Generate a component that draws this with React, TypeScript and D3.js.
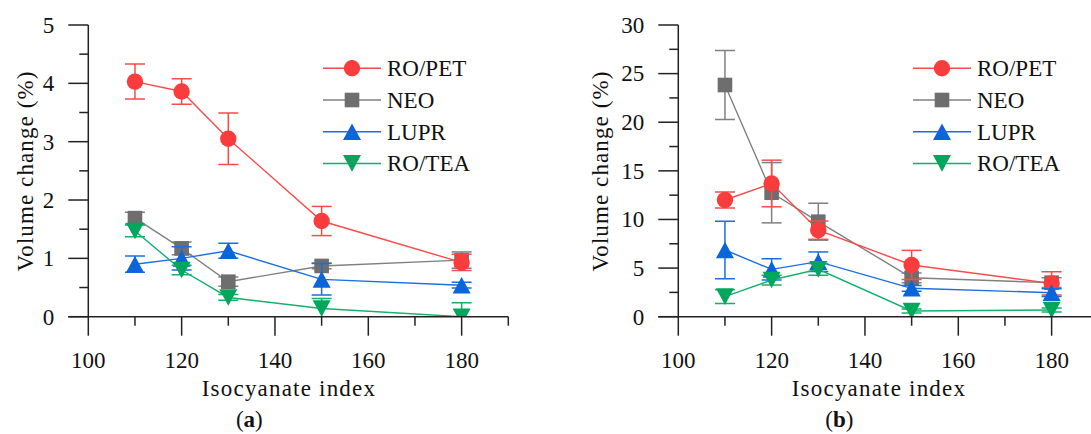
import React from 'react';
import * as d3 from 'd3';

// ---- data ----
const isoIndex = [110, 120, 130, 150, 180];
const seriesNames = ['RO/PET', 'NEO', 'LUPR', 'RO/TEA'];
const seriesColors = ['#fa3c3c', '#6e6e6e', '#0a64dc', '#00a65c'];
const lineColors = ['#fa4a4a', '#808080', '#1a6ee0', '#12b06a'];
const seriesShapes = ['circle', 'square', 'triUp', 'triDown'];
const drawOrder = [1, 0, 2, 3];

// panel (a)
const aRoPet = [4.03, 3.86, 3.05, 1.64, 0.93];
const aRoPetErr = [0.3, 0.22, 0.44, 0.25, 0.14];
const aNeo = [1.69, 1.17, 0.6, 0.87, 0.97];
const aNeoErr = [0.1, 0.11, 0.08, 0.05, 0.14];
const aLupr = [0.9, 1.0, 1.13, 0.64, 0.54];
const aLuprErr = [0.14, 0.2, 0.13, 0.27, 0.05];
const aRoTea = [1.47, 0.8, 0.33, 0.14, 0.0];
const aRoTeaErr = [0.1, 0.08, 0.05, 0.17, 0.24];

// panel (b)
const bRoPet = [12.0, 13.7, 8.9, 5.32, 3.43];
const bRoPetErr = [0.83, 2.4, 0.94, 1.5, 1.2];
const bNeo = [23.83, 12.75, 9.77, 4.0, 3.5];
const bNeoErr = [3.55, 3.1, 1.9, 0.5, 0.5];
const bLupr = [6.86, 4.87, 5.66, 2.92, 2.47];
const bLuprErr = [2.95, 1.1, 1.0, 0.3, 0.4];
const bRoTea = [2.06, 3.77, 4.87, 0.59, 0.69];
const bRoTeaErr = [0.7, 0.5, 0.6, 0.2, 0.2];

const xDomain = [100, 190];
const xMajorTicks = [100, 120, 140, 160, 180];
const xMinorTicks = [110, 130, 150, 170, 190];
const aYTicks = [0, 1, 2, 3, 4, 5];
const aYMinor = [0.5, 1.5, 2.5, 3.5, 4.5];
const bYTicks = [0, 5, 10, 15, 20, 25, 30];
const bYMinor = [2.5, 7.5, 12.5, 17.5, 22.5, 27.5];

function marker(shape: string, cx: number, cy: number, color: string, key: string) {
  if (shape === 'circle') return <circle key={key} cx={cx} cy={cy} r={8.2} fill={color} />;
  if (shape === 'square') return <rect key={key} x={cx - 7.3} y={cy - 7.3} width={14.6} height={14.6} fill={color} />;
  const w = 9, h = 8.3;
  if (shape === 'triUp')
    return <path key={key} d={`M${cx},${cy - h}L${cx + w},${cy + h}L${cx - w},${cy + h}Z`} fill={color} />;
  return <path key={key} d={`M${cx},${cy + h}L${cx + w},${cy - h}L${cx - w},${cy - h}Z`} fill={color} />;
}

type PanelProps = {
  x0: number;
  yMax: number;
  yTicks: number[];
  yMinor: number[];
  values: number[][];
  errors: number[][];
  tag: string;
  legendX: number;
};

function Panel({ x0, yMax, yTicks, yMinor, values, errors, tag, legendX }: PanelProps) {
  const x = d3.scaleLinear().domain(xDomain).range([x0, x0 + 420]);
  const y = d3.scaleLinear().domain([0, yMax]).range([316.7, 25]);
  const line = d3.line<number>().x((_, i) => x(isoIndex[i])).y((d) => y(d));
  const axisColor = '#222';
  const yAxisX = x(xDomain[0]);
  const y0 = y(0);
  const clipId = 'clip-' + tag;
  return (
    <g>
      <defs>
        <clipPath id={clipId}>
          <rect x={yAxisX} y={0} width={x(xDomain[1]) - yAxisX + 20} height={y0} />
        </clipPath>
      </defs>
      {/* series */}
      <g clipPath={`url(#${clipId})`}>
        {drawOrder.map((si) => {
          const vals = values[si];
          return (
            <g key={'s' + si}>
              <path d={line(vals) || ''} fill="none" stroke={lineColors[si]} strokeWidth={1.4} />
              {vals.map((v, i) => {
                const e = errors[si][i];
                const cx = x(isoIndex[i]);
                return (
                  <g key={'e' + i} stroke={lineColors[si]} strokeWidth={1.5}>
                    <line x1={cx} x2={cx} y1={y(v + e)} y2={y(v - e)} />
                    <line x1={cx - 10} x2={cx + 10} y1={y(v + e)} y2={y(v + e)} />
                    <line x1={cx - 10} x2={cx + 10} y1={y(v - e)} y2={y(v - e)} />
                  </g>
                );
              })}
              {vals.map((v, i) => marker(seriesShapes[si], x(isoIndex[i]), y(v), seriesColors[si], 'm' + i))}
            </g>
          );
        })}
      </g>
      {/* axes */}
      <line x1={yAxisX} x2={yAxisX} y1={y(yMax)} y2={y0} stroke={axisColor} strokeWidth={1.5} />
      <line x1={yAxisX - 20} x2={x(xDomain[1])} y1={y0} y2={y0} stroke={axisColor} strokeWidth={1.5} />
      {yTicks.map((t) => (
        <g key={'yt' + t}>
          <line x1={yAxisX - 20} x2={yAxisX} y1={y(t)} y2={y(t)} stroke={axisColor} strokeWidth={1.5} />
          <text x={yAxisX - 34} y={y(t)} dy="0.34em" textAnchor="end" fontSize={23} fill="#111">
            {t}
          </text>
        </g>
      ))}
      {yMinor.map((t) => (
        <line key={'ym' + t} x1={yAxisX - 9} x2={yAxisX} y1={y(t)} y2={y(t)} stroke={axisColor} strokeWidth={1.5} />
      ))}
      {xMajorTicks.map((t) => (
        <g key={'xt' + t}>
          <line x1={x(t)} x2={x(t)} y1={y0} y2={y0 + 19} stroke={axisColor} strokeWidth={1.5} />
          <text x={x(t)} y={368} textAnchor="middle" fontSize={23} fill="#111">
            {t}
          </text>
        </g>
      ))}
      {xMinorTicks.map((t) => (
        <line key={'xm' + t} x1={x(t)} x2={x(t)} y1={y0} y2={y0 + 9} stroke={axisColor} strokeWidth={1.5} />
      ))}
      {/* titles */}
      <text
        transform={`translate(${yAxisX - (yMax > 9 ? 78 : 63)},171) rotate(-90)`}
        textAnchor="middle"
        dy="0.34em"
        fontSize={23}
        letterSpacing={1.1}
        fill="#111"
      >
        Volume change (%)
      </text>
      <text x={x(143)} y={396} textAnchor="middle" fontSize={23} letterSpacing={1.2} fill="#111">
        Isocyanate index
      </text>
      <text x={x(134.5)} y={427} textAnchor="middle" fontSize={23} fill="#111">
        (<tspan fontWeight="bold">{tag}</tspan>)
      </text>
      {/* legend */}
      {seriesNames.map((name, si) => {
        const ly = 68.3 + si * 31.7;
        return (
          <g key={'l' + si}>
            <line x1={legendX} x2={legendX + 58} y1={ly} y2={ly} stroke={lineColors[si]} strokeWidth={1.5} />
            {marker(seriesShapes[si], legendX + 29, ly, seriesColors[si], 'lm')}
            <text x={legendX + 64} y={ly} dy="0.34em" fontSize={23} fill="#111">
              {name}
            </text>
          </g>
        );
      })}
    </g>
  );
}

export default function App() {
  return (
    <svg
      width={1091}
      height={434}
      style={{ position: 'absolute', left: 0, top: 0, background: '#fff', fontFamily: "'Liberation Serif', 'DejaVu Serif', serif" }}
    >
      <rect width={1091} height={434} fill="#fff" />
      <Panel
        x0={88.3}
        yMax={5}
        yTicks={aYTicks}
        yMinor={aYMinor}
        values={[aRoPet, aNeo, aLupr, aRoTea]}
        errors={[aRoPetErr, aNeoErr, aLuprErr, aRoTeaErr]}
        tag="a"
        legendX={323}
      />
      <Panel
        x0={678.3}
        yMax={30}
        yTicks={bYTicks}
        yMinor={bYMinor}
        values={[bRoPet, bNeo, bLupr, bRoTea]}
        errors={[bRoPetErr, bNeoErr, bLuprErr, bRoTeaErr]}
        tag="b"
        legendX={913}
      />
    </svg>
  );
}
